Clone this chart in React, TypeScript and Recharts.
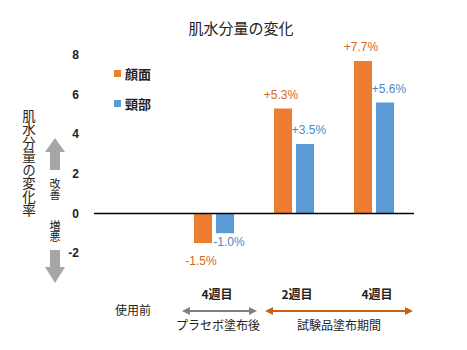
import { BarChart, Bar, XAxis, YAxis, ReferenceLine, LabelList, Legend } from "recharts"

const categories = ["使用前", "4週目", "2週目", "4週目"]
const faceValues = [null, -1.5, 5.3, 7.7]
const neckValues = [null, -1.0, 3.5, 5.6]
const yTicks = [-2, 0, 2, 4, 6, 8]

const ORANGE = "#ED7D31"
const BLUE = "#5B9BD5"
const ORANGE_TEXT = "#D2691E"
const BLUE_TEXT = "#4A89C8"
const NUM_FONT = "'Liberation Sans', Arial, 'Noto Sans CJK JP', sans-serif"
const JP_FONT = "'Noto Sans CJK JP', 'Liberation Sans', sans-serif"

const data = categories.map((name, i) => ({
	key: i,
	name,
	face: faceValues[i],
	neck: neckValues[i],
}))

const fmt = (v: number) => (v > 0 ? `+${v.toFixed(1)}%` : `${v.toFixed(1)}%`)

function makeLabel(color: string, dx: number, negGap: number) {
	return (props: any) => {
		const { x, y, width, height, value } = props
		if (value == null) return null
		const top = Math.min(y, y + height)
		const bottom = Math.max(y, y + height)
		const cx = x + width / 2 + dx
		const ty = value >= 0 ? top - 13 : bottom + negGap
		return (
			<text x={cx} y={ty} textAnchor="middle" dominantBaseline="middle" fill={color} fontSize={12} fontFamily={NUM_FONT}>
				{fmt(value)}
			</text>
		)
	}
}

function CategoryTick(props: any) {
	const { x, payload } = props
	const i = payload.index
	const label = categories[i]
	if (i === 0) {
		return (
			<text x={x - 1} y={312} textAnchor="middle" dominantBaseline="middle" fontSize={12} fontFamily={JP_FONT} fill="#222">
				{label}
			</text>
		)
	}
	return (
		<text x={x + 3} y={296} textAnchor="middle" dominantBaseline="middle" fontSize={12} fontWeight="bold" fontFamily={JP_FONT} fill="#222">
			{label}
		</text>
	)
}

function LegendBox() {
	const items = [
		{ label: "顔面", color: ORANGE },
		{ label: "頸部", color: BLUE },
	]
	return (
		<div style={{ fontFamily: JP_FONT }}>
			{items.map((it) => (
				<div key={it.label} style={{ display: "flex", alignItems: "center", height: 18, marginBottom: 12 }}>
					<span style={{ display: "inline-block", width: 7, height: 7, background: it.color, marginRight: 4 }} />
					<span style={{ fontSize: 13, fontWeight: "bold", color: "#222" }}>{it.label}</span>
				</div>
			))}
		</div>
	)
}

function DoubleArrow({ x1, x2, y, color }: { x1: number; x2: number; y: number; color: string }) {
	return (
		<g>
			<line x1={x1 + 6} x2={x2 - 6} y1={y} y2={y} stroke={color} strokeWidth={2} />
			<polygon points={`${x1},${y} ${x1 + 8},${y - 4} ${x1 + 8},${y + 4}`} fill={color} />
			<polygon points={`${x2},${y} ${x2 - 8},${y - 4} ${x2 - 8},${y + 4}`} fill={color} />
		</g>
	)
}

function Overlay() {
	return (
		<svg width={467} height={350} style={{ position: "absolute", left: 0, top: 0, pointerEvents: "none" }}>
			<text x={241} y={30} textAnchor="middle" dominantBaseline="middle" fontSize={15} fontFamily={JP_FONT} fill="#222">
				肌水分量の変化
			</text>
			<text x={29} y={109} fontSize={13.5} fontFamily={JP_FONT} fill="#222" style={{ writingMode: "vertical-rl" } as any}>
				肌水分量の変化率
			</text>
			{/* up arrow */}
			<polygon points="55,138 65,152 60,152 60,170 50,170 50,152 45,152" fill="#A6A6A6" />
			{/* down arrow */}
			<polygon points="55,283 65,267 60,267 60,250 50,250 50,267 45,267" fill="#A6A6A6" />
			<text x={55} y={178} fontSize={11} fontFamily={JP_FONT} fill="#222" style={{ writingMode: "vertical-rl" } as any}>
				改善
			</text>
			<text x={55} y={220} fontSize={11} fontFamily={JP_FONT} fill="#222" style={{ writingMode: "vertical-rl" } as any}>
				増悪
			</text>
			<DoubleArrow x1={182} x2={257} y={311} color="#808080" />
			<DoubleArrow x1={265} x2={413} y={311} color="#C8601C" />
			<text x={218} y={327} textAnchor="middle" dominantBaseline="middle" fontSize={12} fontFamily={JP_FONT} fill="#222">
				プラセボ塗布後
			</text>
			<text x={339} y={327} textAnchor="middle" dominantBaseline="middle" fontSize={12} fontFamily={JP_FONT} fill="#222">
				試験品塗布期間
			</text>
		</svg>
	)
}

export default function App() {
	return (
		<div style={{ position: "absolute", left: 0, top: 0, width: 467, height: 350, background: "#fff" }}>
			<BarChart
				width={467}
				height={350}
				data={data}
				margin={{ top: 55, right: 53, left: 0, bottom: 0 }}
				barSize={18}
				barGap={4}
			>
				<XAxis dataKey="key" height={97} axisLine={false} tickLine={false} tick={<CategoryTick />} interval={0} />
				<YAxis
					width={94}
					domain={[-2, 8]}
					ticks={yTicks}
					axisLine={false}
					tickLine={false}
					tickSize={0}
					tickMargin={15}
					allowDataOverflow
					tick={{ fontSize: 12, fontWeight: "bold", fill: "#222", fontFamily: NUM_FONT }}
				/>
				<ReferenceLine y={0} stroke="#000" strokeWidth={1.5} />
				<Legend
					layout="horizontal"
					align="center"
					verticalAlign="middle"
					content={<LegendBox />}
					wrapperStyle={{ position: "absolute", left: 114, top: 64, width: 60 }}
				/>
				<Bar dataKey="face" name="顔面" fill={ORANGE} isAnimationActive={false}>
					<LabelList dataKey="face" content={makeLabel(ORANGE_TEXT, -2, 19)} />
				</Bar>
				<Bar dataKey="neck" name="頸部" fill={BLUE} isAnimationActive={false}>
					<LabelList dataKey="neck" content={makeLabel(BLUE_TEXT, 4, 10)} />
				</Bar>
			</BarChart>
			<Overlay />
		</div>
	)
}
